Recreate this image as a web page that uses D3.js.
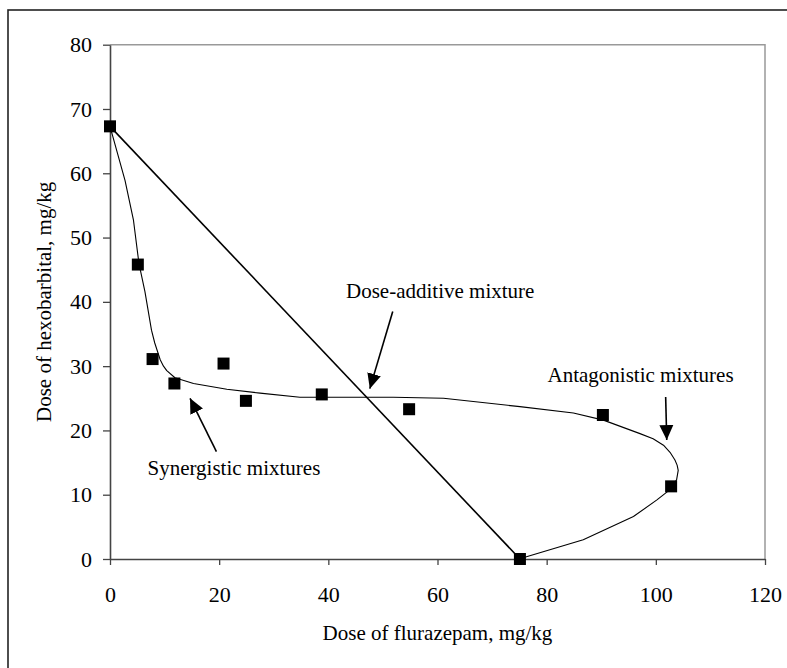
<!DOCTYPE html>
<html>
<head>
<meta charset="utf-8">
<script src="https://cdn.jsdelivr.net/npm/d3@7"></script>
<style>
  body { margin: 0; background: #fff; }
  svg { display: block; }
  text { font-family: "Liberation Serif", "Times New Roman", serif; fill: #000; }
</style>
</head>
<body>
<div id="chart"></div>
<script>
(function () {

    // observed doses (flurazepam, hexobarbital), mg/kg
    const doseFlu = [0, 5.1, 7.8, 11.8, 20.8, 24.9, 38.8, 54.8, 90.3, 102.8, 75.1];
    const doseHex = [67.3, 45.8, 31.1, 27.3, 30.4, 24.6, 25.6, 23.3, 22.4, 11.3, 0];

    // dose-additive line ends
    const addFlu = [0, 75.1];
    const addHex = [67.3, 0];

    // fitted isobole
    const fitFlu = [0, 2.75, 4.3, 5.3, 6.4, 7.6, 8.2, 9.2, 9.8, 10.4, 11.9, 15.3, 21.4, 27.5, 34.8, 51.9, 61.1, 75.1, 84.9, 90.4, 97.1, 99.5, 101.4, 102.6, 103.5, 103.9, 104.1, 103.8, 102.6, 100.2, 95.9, 86.7, 76.3, 75.1];
    const fitHex = [67.3, 58.9, 52.7, 46.0, 41.6, 35.6, 33.6, 31.0, 30.0, 29.3, 28.2, 27.3, 26.4, 25.8, 25.15, 25.15, 25.0, 23.7, 22.7, 21.6, 19.5, 18.7, 17.7, 16.6, 15.4, 14.6, 13.8, 12.3, 10.8, 9.2, 6.6, 3.0, 0.36, 0];

    const xTicks = [0, 20, 40, 60, 80, 100, 120];
    const yTicks = [0, 10, 20, 30, 40, 50, 60, 70, 80];

    // annotation labels and arrows (data units)
    const noteText = ['Dose-additive mixture', 'Antagonistic mixtures', 'Synergistic mixtures'];
    const noteAt = [[60.5, 40.6], [97.2, 27.6], [22.7, 13.1]];
    const arrowFrom = [[51.8, 38.5], [101.8, 25.2], [19.5, 16.7]];
    const arrowTo = [[47.6, 26.5], [102.0, 18.5], [14.66, 25.0]];

    const width = 787;
    const height = 668;
    const margin = { top: 44.7, right: 22, bottom: 109, left: 110 };

    const svg = d3.select('#chart')
        .append('svg')
        .attr('width', width)
        .attr('height', height);

    // outer frame
    svg.append('rect')
        .attr('x', 8)
        .attr('y', 10)
        .attr('width', 800)
        .attr('height', 700)
        .attr('fill', 'none')
        .attr('stroke', '#222')
        .attr('stroke-width', 1.6);

    const x = d3.scaleLinear().domain([0, 120]).range([margin.left, width - margin.right]);
    const y = d3.scaleLinear().domain([0, 80]).range([height - margin.bottom, margin.top]);

    // plot box top / right
    svg.append('path')
        .attr('d', `M${x(0)},${y(80)}H${x(120)}V${y(0)}`)
        .attr('fill', 'none')
        .attr('stroke', '#999')
        .attr('stroke-width', 1.5);

    const xAxis = svg.append('g')
        .attr('transform', `translate(0,${y(0)})`)
        .call(d3.axisBottom(x).tickValues(xTicks).tickSize(6).tickPadding(21).tickSizeOuter(0));

    const yAxis = svg.append('g')
        .attr('transform', `translate(${x(0)},0)`)
        .call(d3.axisLeft(y).tickValues(yTicks).tickSize(7).tickPadding(11).tickSizeOuter(0));

    [xAxis, yAxis].forEach(g => {
        g.select('.domain').attr('stroke', '#444').attr('stroke-width', 1.6);
        g.selectAll('.tick line').attr('stroke', '#444').attr('stroke-width', 1.3);
        g.selectAll('.tick text')
            .attr('font-size', 22)
            .attr('font-family', '"Liberation Serif", "Times New Roman", serif')
            .attr('fill', '#000');
    });

    svg.append('text')
        .attr('x', (x(0) + x(120)) / 2)
        .attr('y', 640)
        .attr('text-anchor', 'middle')
        .attr('font-size', 21)
        .text('Dose of flurazepam, mg/kg');

    svg.append('text')
        .attr('transform', `translate(51,${(y(0) + y(80)) / 2}) rotate(-90)`)
        .attr('text-anchor', 'middle')
        .attr('font-size', 21)
        .text('Dose of hexobarbital, mg/kg');

    // dose-additive line
    svg.append('path')
        .datum(d3.zip(addFlu, addHex))
        .attr('d', d3.line().x(d => x(d[0])).y(d => y(d[1])))
        .attr('fill', 'none')
        .attr('stroke', '#000')
        .attr('stroke-width', 1.6);

    // fitted curve
    svg.append('path')
        .datum(d3.zip(fitFlu, fitHex))
        .attr('d', d3.line().x(d => x(d[0])).y(d => y(d[1])))
        .attr('fill', 'none')
        .attr('stroke', '#000')
        .attr('stroke-width', 1.1)
        .attr('stroke-linejoin', 'round');

    // markers
    const sq = 12;
    svg.append('g')
        .selectAll('rect')
        .data(d3.zip(doseFlu, doseHex))
        .join('rect')
        .attr('x', d => x(d[0]) - sq / 2)
        .attr('y', d => y(d[1]) - sq / 2)
        .attr('width', sq)
        .attr('height', sq)
        .attr('fill', '#000');

    // arrows
    svg.append('defs')
        .append('marker')
        .attr('id', 'head')
        .attr('markerUnits', 'userSpaceOnUse')
        .attr('viewBox', '0 -8 16 16')
        .attr('refX', 15)
        .attr('refY', 0)
        .attr('markerWidth', 16)
        .attr('markerHeight', 16)
        .attr('orient', 'auto')
        .append('path')
        .attr('d', 'M0,-7L15,0L0,7Z')
        .attr('fill', '#000');

    svg.append('g')
        .selectAll('line')
        .data(d3.zip(arrowFrom, arrowTo))
        .join('line')
        .attr('x1', d => x(d[0][0]))
        .attr('y1', d => y(d[0][1]))
        .attr('x2', d => x(d[1][0]))
        .attr('y2', d => y(d[1][1]))
        .attr('stroke', '#000')
        .attr('stroke-width', 1.6)
        .attr('marker-end', 'url(#head)');

    svg.append('g')
        .selectAll('text')
        .data(d3.zip(noteText, noteAt))
        .join('text')
        .attr('x', d => x(d[1][0]))
        .attr('y', d => y(d[1][1]))
        .attr('text-anchor', 'middle')
        .attr('font-size', 21)
        .text(d => d[0]);

})();
</script>
</body>
</html>
